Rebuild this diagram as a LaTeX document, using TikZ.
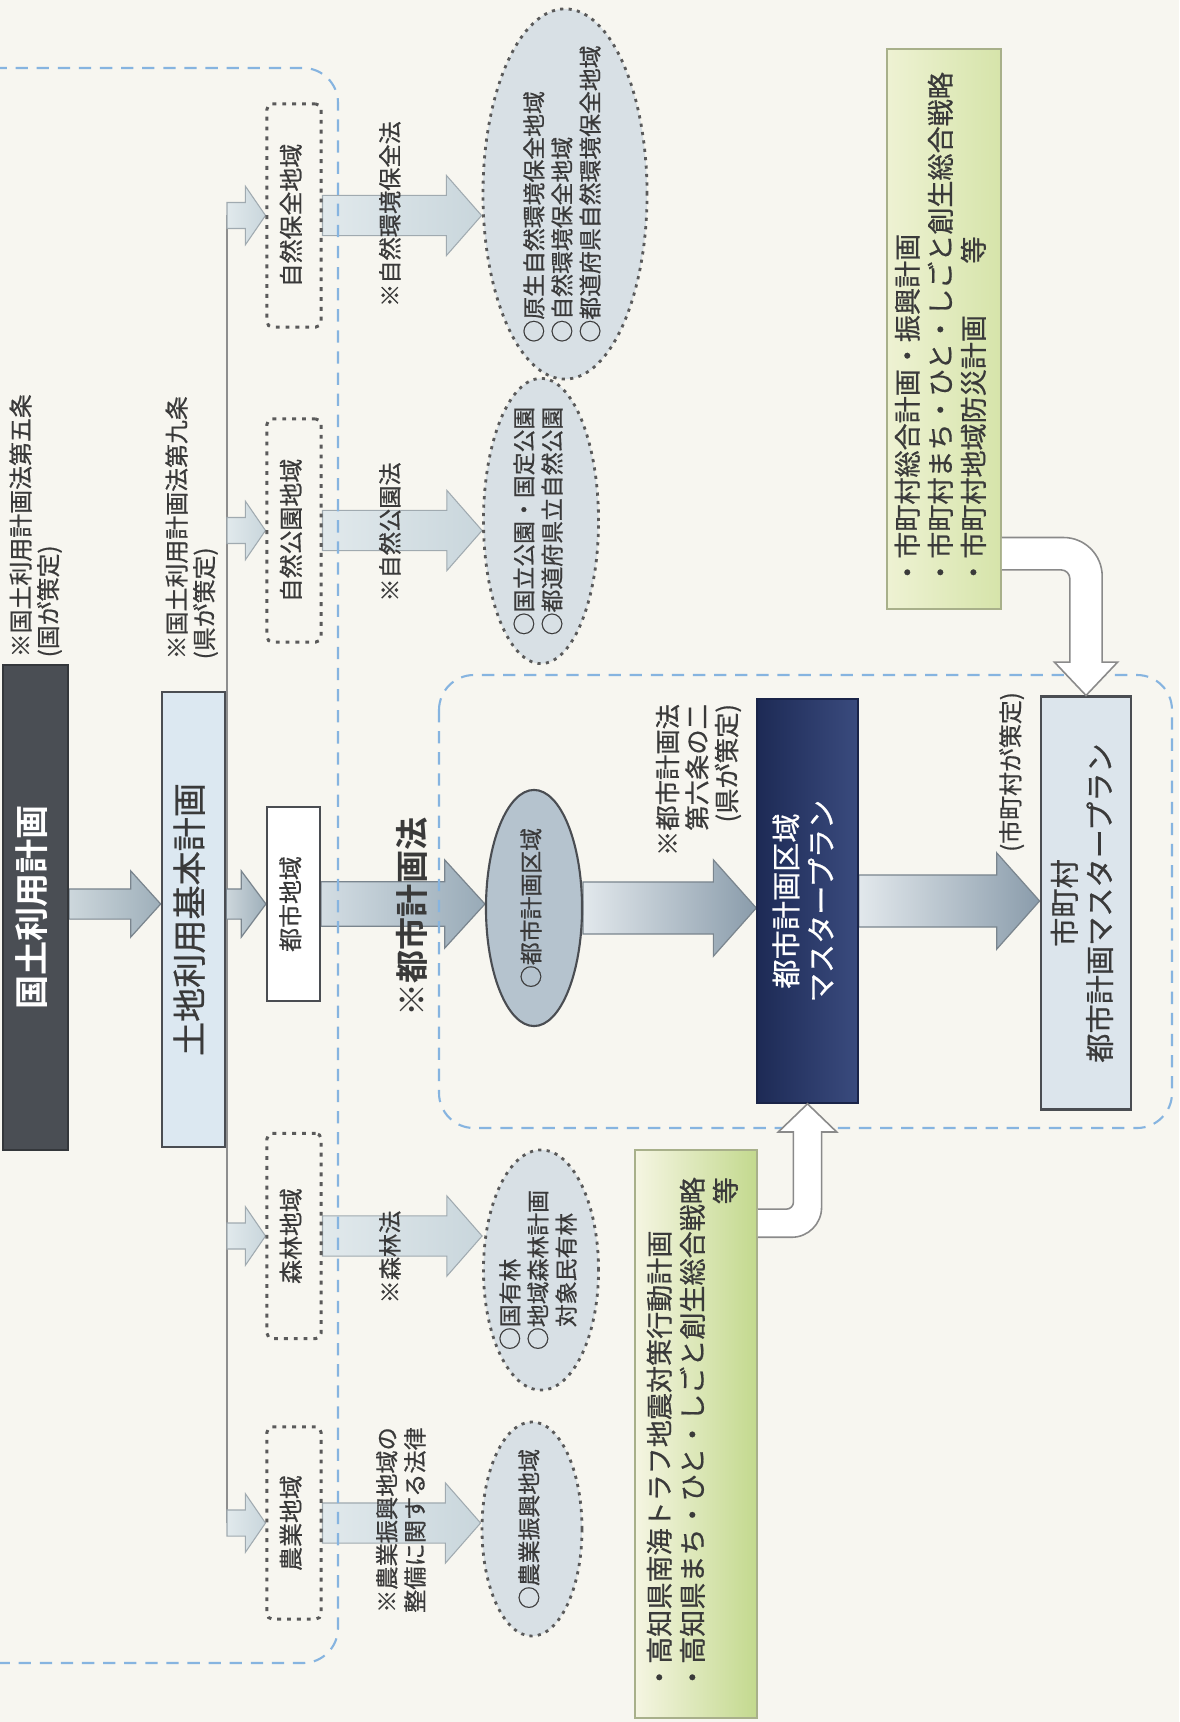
\documentclass[tikz,border=0pt]{standalone}
\usepackage{fontspec}
\setmainfont{Noto Sans CJK JP}[FakeBold=0.6, BoldFont={Noto Sans CJK JP Bold}, BoldFeatures={FakeBold=0}]
\usepackage{graphicx}
\usepackage{tikz}
\usetikzlibrary{calc}
\usetikzlibrary{shapes}
\pgfdeclarelayer{back}
\pgfsetlayers{back,main}
\definecolor{paper}{HTML}{F7F6F0}
\definecolor{ink}{HTML}{3A3A3A}
\definecolor{darkfill}{HTML}{4A4E54}
\definecolor{darkline}{HTML}{34373B}
\definecolor{lightblue}{HTML}{DCE8F1}
\definecolor{boxline}{HTML}{4A4D52}
\definecolor{dotline}{HTML}{5A5A5A}
\definecolor{ovalfill}{HTML}{D8E0E5}
\definecolor{cityfill}{HTML}{B5C3CE}
\definecolor{navydark}{HTML}{1D2A55}
\definecolor{navylight}{HTML}{3A4B7E}
\definecolor{navyline}{HTML}{1A2448}
\definecolor{munifill}{HTML}{DCE5EC}
\definecolor{greenline}{HTML}{A8B08A}
\definecolor{greenpaleA}{HTML}{EEF2D3}
\definecolor{greenA}{HTML}{D6E4AA}
\definecolor{greenpaleB}{HTML}{F5F5E2}
\definecolor{greenB}{HTML}{C3D98E}
\definecolor{regionblue}{HTML}{86B4E0}
\definecolor{arrowline}{HTML}{7A858E}
\definecolor{arrowA}{HTML}{CDD7DC}
\definecolor{arrowB}{HTML}{9EAFBA}
\definecolor{paleA}{HTML}{E1E9EC}
\definecolor{paleB}{HTML}{C9D6DC}
\definecolor{paleline}{HTML}{A0AAB0}
\definecolor{cityA}{HTML}{D3DDE3}
\definecolor{cityB}{HTML}{98AAB7}
\definecolor{bigA}{HTML}{E2E8EC}
\definecolor{bigB}{HTML}{8A9CAB}
\definecolor{hollowline}{HTML}{8A8A8A}
\definecolor{trunkgray}{HTML}{8E8E8E}
\newcommand{\vtext}[2][c]{\rotatebox{90}{\begin{tabular}{@{}#1@{}}#2\end{tabular}}}
\newcommand{\fatarrow}[6][]{\path[#1] let \p1=(#2), \p2=(#3) in (\x1,\y1+#4) -- (\x2-#6,\y1+#4) -- (\x2-#6,\y1+#5) -- (\x2,\y1) -- (\x2-#6,\y1-#5) -- (\x2-#6,\y1-#4) -- (\x1,\y1-#4) -- cycle;}
\newcommand{\elbowdown}[2]{\path[hollow] let \p1=(#1), \p2=(#2) in (\x1,\y1+4.6pt) -- (\x2+4.6pt-11pt,\y1+4.6pt) arc[start angle=90,end angle=0,radius=11pt] -- (\x2+4.6pt,\y2+9.5pt) -- (\x2+9pt,\y2+9.5pt) -- (\x2,\y2) -- (\x2-9pt,\y2+9.5pt) -- (\x2-4.6pt,\y2+9.5pt) -- (\x2-4.6pt,\y1-7.1pt) arc[start angle=0,end angle=90,radius=2.5pt] -- (\x1,\y1-4.6pt);}
\newcommand{\elbowup}[2]{\path[hollow] let \p1=(#1), \p2=(#2) in (\x1,\y1-4pt) -- (\x2-4.5pt,\y1-4pt) arc[start angle=-90,end angle=0,radius=8.5pt] -- (\x2+4pt,\y2-8pt) -- (\x2+8.3pt,\y2-8pt) -- (\x2,\y2) -- (\x2-8.3pt,\y2-8pt) -- (\x2-4pt,\y2-8pt) -- (\x2-4pt,\y1+6pt) arc[start angle=0,end angle=-90,radius=2pt] -- (\x1,\y1+4pt);}

\begin{document}
\begin{tikzpicture}[x=0.01cm,y=-0.01cm,
  every node/.style={inner sep=0pt, text=ink},
  darkbox/.style={draw=darkline, fill=darkfill, line width=0.6pt, text=white, font=\fontsize{9.7pt}{11pt}\selectfont\bfseries},
  lightbox/.style={draw=boxline, fill=lightblue, line width=0.75pt, font=\fontsize{9.7pt}{11pt}\selectfont},
  zonebox/.style={draw=dotline, line width=0.85pt, dash pattern=on 1.1pt off 1.7pt, rounded corners=1.5pt, font=\fontsize{6.8pt}{8pt}\selectfont},
  citybox/.style={draw=boxline, fill=white, line width=0.6pt, font=\fontsize{6.8pt}{8pt}\selectfont},
  zoneoval/.style={ellipse, draw=dotline, fill=ovalfill, line width=0.8pt, dash pattern=on 0.9pt off 1.5pt},
  cityoval/.style={ellipse, draw=boxline, fill=cityfill, line width=0.6pt},
  ovaltext/.style={font=\fontsize{6.5pt}{8pt}\selectfont},
  lawtext/.style={font=\fontsize{6.6pt}{8pt}\selectfont},
  note/.style={font=\fontsize{6.8pt}{7pt}\selectfont},
  navybox/.style={draw=navyline, left color=navydark, right color=navylight, text=white, font=\fontsize{8.3pt}{10pt}\selectfont},
  munibox/.style={draw=boxline, fill=munifill, line width=0.8pt, font=\fontsize{8.3pt}{10pt}\selectfont},
  greenbox/.style={draw=greenline, line width=0.4pt, font=\fontsize{7.7pt}{9.4pt}\selectfont},
  region/.style={draw=regionblue, line width=0.6pt, dash pattern=on 3.5pt off 2.5pt, rounded corners=0.35cm},
  mainarrow/.style={draw=arrowline, line width=0.35pt, left color=arrowA, right color=arrowB},
  palearrow/.style={draw=paleline, line width=0.3pt, left color=paleA, right color=paleB},
  cityarrow/.style={draw=arrowline, line width=0.35pt, left color=cityA, right color=cityB},
  bigarrow/.style={draw=arrowline, line width=0.35pt, left color=bigA, right color=bigB},
  hollow/.style={draw=hollowline, fill=white, line width=0.45pt},
  trunkline/.style={draw=trunkgray, line width=0.4pt}]
  %
  \begin{pgfonlayer}{back}
    \fill[paper] (0,0) rectangle (1179,1722);
  \end{pgfonlayer}
  \useasboundingbox (0,0) rectangle (1179,1722);
  \clip (0,0) rectangle (1179,1722);

  % national and prefectural plans
  \node[darkbox, minimum width=0.65cm, minimum height=4.85cm] (kokudo) at (35.5,907.5) {\vtext{国土利用計画}};
  \node[note, anchor=south] (noteKokudo) at (37,658) {\vtext[l]{※国土利用計画法第五条\\(国が策定)}};
  \node[lightbox, minimum width=0.63cm, minimum height=4.55cm] (tochi) at (193.5,919.5) {\vtext{土地利用基本計画}};
  \node[note, anchor=south] (noteTochi) at (193,660) {\vtext[l]{※国土利用計画法第九条\\(県が策定)}};

  % five zones
  \node[zonebox, minimum width=0.54cm, minimum height=2.23cm] (shizen) at (294,215.5) {\vtext{自然保全地域}};
  \node[zonebox, minimum width=0.54cm, minimum height=2.23cm] (kouen) at (294,530.5) {\vtext{自然公園地域}};
  \node[citybox, minimum width=0.53cm, minimum height=1.94cm] (toshi) at (293.5,904) {\vtext{都市地域}};
  \node[zonebox, minimum width=0.54cm, minimum height=2.05cm] (shinrin) at (294,1236) {\vtext{森林地域}};
  \node[zonebox, minimum width=0.54cm, minimum height=1.92cm] (nougyou) at (294,1523) {\vtext{農業地域}};
  \coordinate (trunkTop) at (227,215);
  \coordinate (trunkBot) at (227,1523);

  % laws
  \node[lawtext] (lawShizen) at (393,214) {\vtext{※自然環境保全法}};
  \node[lawtext] (lawKouen) at (393,532) {\vtext{※自然公園法}};
  \node[font=\fontsize{9.4pt}{11pt}\selectfont\bfseries] (lawToshi) at (416,917) {\vtext{※都市計画法}};
  \node[lawtext] (lawShinrin) at (393,1257) {\vtext{※森林法}};
  \node[lawtext] (lawNougyou) at (404,1520) {\vtext[l]{※農業振興地域の\\整備に関する法律}};

  % designated areas
  \node[zoneoval, minimum width=1.64cm, minimum height=3.7cm] (eShizen) at (565,194) {};
  \node[ovaltext] (tShizen) at (eShizen.center) {\vtext[l]{○原生自然環境保全地域\\○自然環境保全地域\\○都道府県自然環境保全地域}};
  \node[zoneoval, minimum width=1.15cm, minimum height=2.85cm] (eKouen) at (541,521) {};
  \node[ovaltext] (tKouen) at (eKouen.center) {\vtext[l]{○国立公園・国定公園\\○都道府県立自然公園}};
  \node[cityoval, minimum width=0.96cm, minimum height=2.36cm] (eToshi) at (534,908) {};
  \node[ovaltext] (tToshi) at (eToshi.center) {\vtext{○都市計画区域}};
  \node[zoneoval, minimum width=1.15cm, minimum height=2.4cm] (eShinrin) at (541,1270) {};
  \node[ovaltext] (tShinrin) at (eShinrin.center) {\vtext[l]{○国有林\\○地域森林計画\\　対象民有林}};
  \node[zoneoval, minimum width=1.0cm, minimum height=2.14cm] (eNougyou) at (532,1529) {};
  \node[ovaltext] (tNougyou) at (eNougyou.center) {\vtext{○農業振興地域}};

  % master plans
  \node[font=\fontsize{7.2pt}{7.7pt}\selectfont] (lawPlan) at (700,780) {\vtext[r]{※都市計画法\\第六条の二\\(県が策定)}};
  \node[navybox, minimum width=1.01cm, minimum height=4.04cm] (navy) at (807.5,901) {\vtext{都市計画区域\\マスタープラン}};
  \node[note] (muniBy) at (1013,772) {\vtext{(市町村が策定)}};
  \node[munibox, minimum width=0.9cm, minimum height=4.12cm] (muni) at (1086,903) {\vtext{市町村\\都市計画マスタープラン}};

  % related plans
  \node[greenbox, left color=greenpaleA, right color=greenA, minimum width=1.14cm, minimum height=5.6cm] (g1) at (944,329)
    {\vtext[l]{・市町村総合計画・振興計画\\・市町村まち・ひと・しごと創生総合戦略\\・市町村地域防災計画\hspace{1.9em}等}};
  \node[greenbox, left color=greenpaleB, right color=greenB, minimum width=1.22cm, minimum height=5.68cm] (g2) at (696,1434)
    {\vtext[l]{・高知県南海トラフ地震対策行動計画\\・高知県まち・ひと・しごと創生総合戦略\\\hfill 等}};
  \coordinate (g1out) at ($(g1.north east)!0.9!(g1.south east)$);
  \coordinate (g2out) at ($(g2.north east)!0.13!(g2.south east)$);

  \begin{pgfonlayer}{back}
    \draw[trunkline] (trunkTop) -- (trunkBot);
    \fatarrow[mainarrow]{kokudo.east |- toshi.west}{tochi.west}{4.3pt}{9.4pt}{8.5pt}
    \fatarrow[mainarrow]{tochi.east |- toshi.west}{toshi.west}{4.3pt}{9.4pt}{7pt}
    \fatarrow[palearrow]{trunkTop |- shizen.west}{shizen.west}{3.7pt}{8.3pt}{5.7pt}
    \fatarrow[palearrow]{trunkTop |- kouen.west}{kouen.west}{3.7pt}{8.3pt}{5.7pt}
    \fatarrow[palearrow]{trunkTop |- shinrin.west}{shinrin.west}{3.7pt}{8.3pt}{5.7pt}
    \fatarrow[palearrow]{trunkTop |- nougyou.west}{nougyou.west}{3.7pt}{8.3pt}{5.7pt}
    \fatarrow[palearrow]{shizen.east}{eShizen.west}{5.7pt}{11.4pt}{10pt}
    \fatarrow[palearrow]{kouen.east}{eKouen.west}{5.7pt}{11.4pt}{10pt}
    \fatarrow[palearrow]{shinrin.east}{eShinrin.west}{5.7pt}{11.4pt}{10pt}
    \fatarrow[palearrow]{nougyou.east}{eNougyou.west}{5.7pt}{11.4pt}{10pt}
    \fatarrow[cityarrow]{toshi.east}{eToshi.west}{6.3pt}{12.5pt}{11.4pt}
    \fatarrow[bigarrow]{eToshi.east}{navy.west}{7.4pt}{13.7pt}{12.2pt}
    \fatarrow[bigarrow]{navy.east}{muni.west}{7.4pt}{13.7pt}{12.2pt}
  \end{pgfonlayer}

  % planning areas
  \draw[region] (-40,68) rectangle (338,1663);
  \draw[region] (439,675) rectangle (1172,1128);

  \elbowdown{g1out}{muni.north}
  \elbowup{g2out}{navy.south}
\end{tikzpicture}
\end{document}
